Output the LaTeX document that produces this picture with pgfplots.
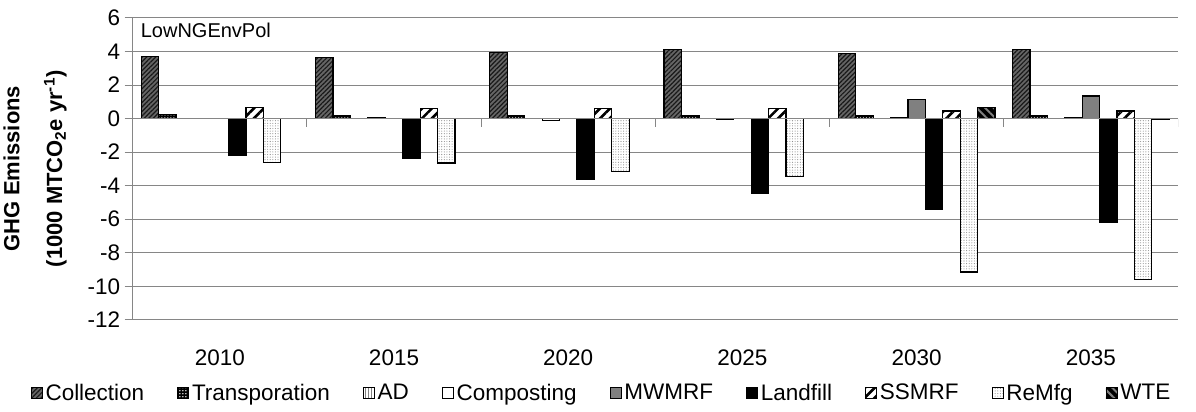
\documentclass[border=0pt]{standalone}
\usepackage{fontspec}
\setmainfont{Liberation Sans}
\usepackage{pgfplots}
\pgfplotsset{compat=1.18}
\usetikzlibrary{patterns.meta}
\definecolor{gridgray}{RGB}{134,134,134}
\definecolor{mwgray}{RGB}{128,128,128}
\begin{document}
\begin{tikzpicture}
\begin{axis}[
  scale only axis, width=1046pt, height=302pt,
  ybar=0pt, bar width=0.1,
  xmin=-0.5, xmax=5.5, ymin=-12, ymax=6,
  ytick={-12,-10,...,6},
  xtick={0,...,5}, xticklabels={2010,2015,2020,2025,2030,2035},
  x axis line style={draw=none},
  axis lines*=left,
  y axis line style={-,draw=gridgray,line width=1pt},
  xtick style={draw=none},
  ytick style={draw=gridgray,line width=1pt},
  tick align=outside, major tick length=8pt,
  ymajorgrids, grid style={gridgray,line width=1pt},
  /pgf/number format/assume math mode=true,
  tick label style={font=\fontsize{22.5}{26}\selectfont},
  xticklabel style={yshift=-18pt},
  yticklabel style={xshift=-1pt},
  ylabel={\textbf{GHG Emissions}\\\textbf{(1000 MTCO\textsubscript{2}e yr\textsuperscript{-1})}},
  ylabel style={align=center,font=\fontsize{22}{43}\selectfont},
  ylabel shift=14pt,
  legend columns=9,
  legend style={draw=none, at={(0.449,-0.205)}, anchor=north,
    font=\fontsize{22.5}{26}\selectfont, inner sep=0pt,
    nodes={inner xsep=3pt},
    /tikz/every even column/.append style={column sep=30pt}},
  legend image code/.code={\draw[#1,line width=0.8pt] (0pt,-6pt) rectangle (11pt,5pt);},
  every axis plot/.append style={draw=black, line width=1.2pt},
]
\addplot[fill=gray!80!black, postaction={pattern={Lines[angle=45,distance=3.2pt,line width=1.2pt]}, pattern color=black!90}]
  coordinates {(0,3.72) (1,3.65) (2,3.95) (3,4.12) (4,3.9) (5,4.12)};
\addlegendentry{Collection}
\addplot[fill=black, postaction={pattern={Dots[distance=3pt,radius=0.7pt]}, pattern color=white}]
  coordinates {(0,0.25) (1,0.2) (2,0.2) (3,0.2) (4,0.2) (5,0.2)};
\addlegendentry{Transporation}
\addplot[fill=white, postaction={pattern={Lines[angle=90,distance=3pt,line width=1.1pt]}, pattern color=gray}]
  coordinates {(0,0) (1,0) (2,0) (3,0) (4,0) (5,0)};
\addlegendentry{AD}
\addplot[fill=white]
  coordinates {(0,0) (1,0.05) (2,-0.1) (3,-0.05) (4,0.05) (5,0.05)};
\addlegendentry{Composting}
\addplot[fill=mwgray]
  coordinates {(0,0) (1,0) (2,0) (3,0) (4,1.15) (5,1.35)};
\addlegendentry{MWMRF}
\addplot[fill=black]
  coordinates {(0,-2.2) (1,-2.37) (2,-3.6) (3,-4.45) (4,-5.4) (5,-6.2)};
\addlegendentry{Landfill}
\addplot[fill=white, postaction={pattern={Lines[angle=45,distance=7pt,line width=2.6pt]}, pattern color=black}]
  coordinates {(0,0.65) (1,0.6) (2,0.6) (3,0.6) (4,0.45) (5,0.45)};
\addlegendentry{SSMRF}
\addplot[fill=white, postaction={pattern={Dots[distance=2.6pt,radius=0.55pt]}, pattern color=gray!90}]
  coordinates {(0,-2.6) (1,-2.65) (2,-3.17) (3,-3.46) (4,-9.15) (5,-9.6)};
\addlegendentry{ReMfg}
\addplot[fill=black, postaction={pattern={Lines[angle=-45,distance=6pt,line width=2pt]}, pattern color=gray}]
  coordinates {(0,0) (1,0) (2,0) (3,0) (4,0.68) (5,-0.05)};
\addlegendentry{WTE}
\draw[gridgray,line width=1pt] (axis cs:-0.5,0) -- (axis cs:5.5,0);
\pgfplotsinvokeforeach{-0.5,0.5,1.5,2.5,3.5,4.5,5.5}{\draw[gridgray,line width=1pt] (axis cs:#1,0) -- ++(0pt,-8pt);}
\node[anchor=north west, font=\fontsize{20}{24}\selectfont, inner sep=0pt] at ([xshift=8pt,yshift=-5pt]rel axis cs:0,1) {LowNGEnvPol};
\coordinate (NW) at (rel axis cs:0,1);
\coordinate (SE) at (rel axis cs:1,0);
\end{axis}
\path ([xshift=-132pt,yshift=18pt]NW) rectangle ([xshift=18pt,yshift=-92pt]SE);
\end{tikzpicture}
\end{document}
